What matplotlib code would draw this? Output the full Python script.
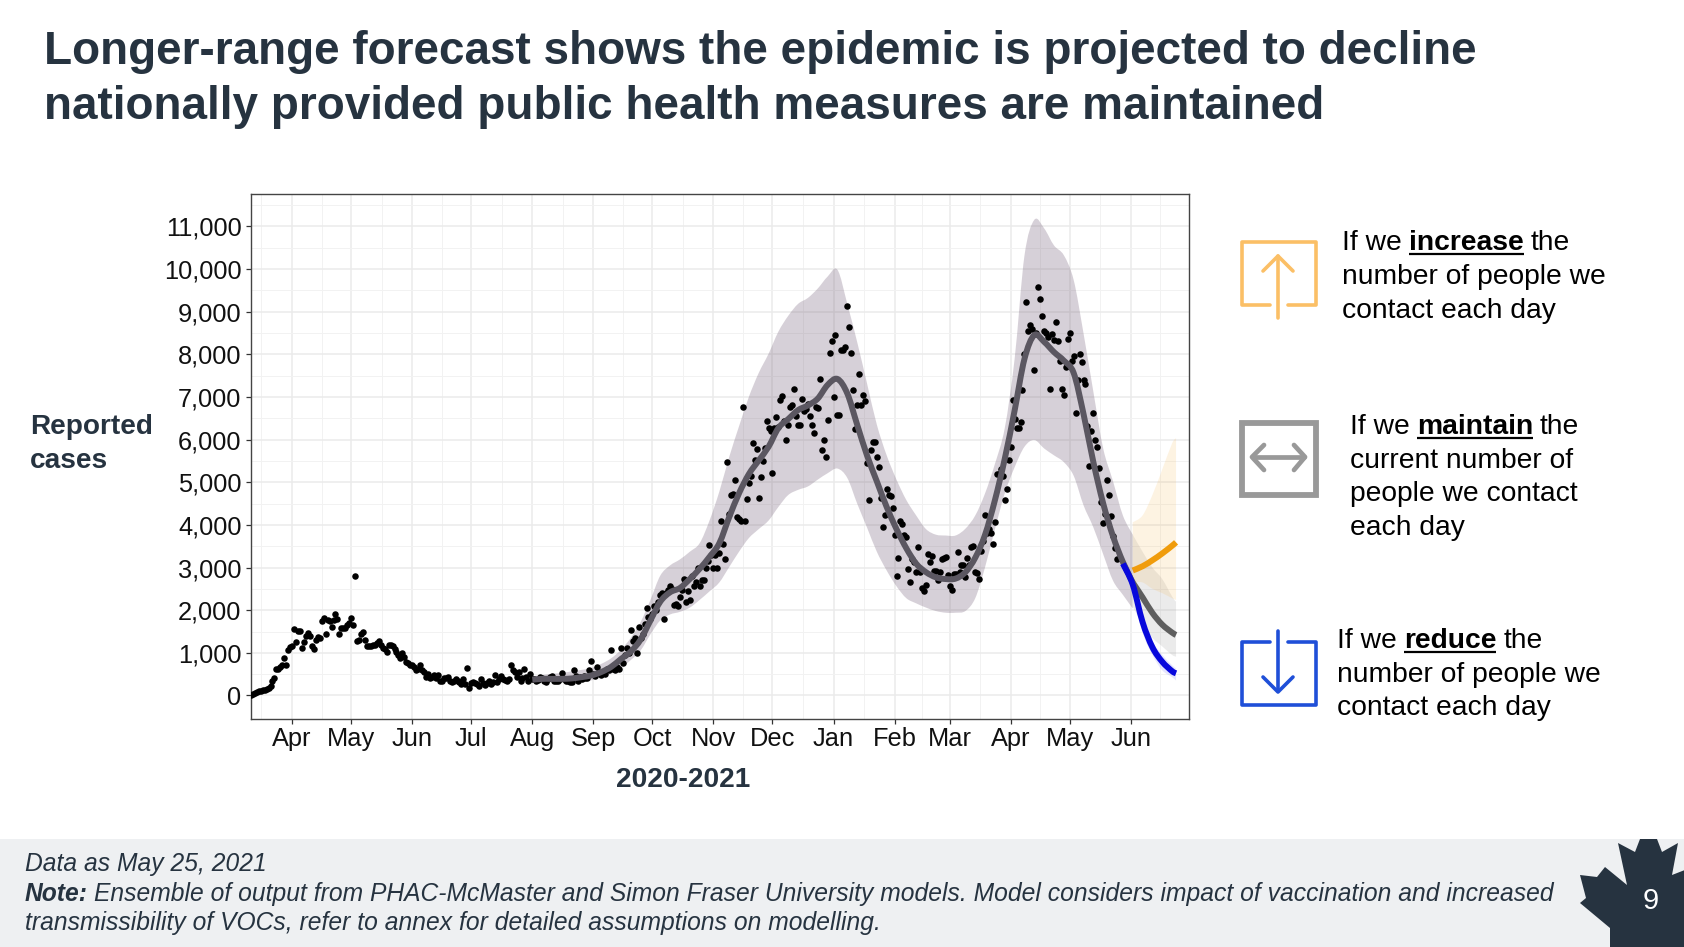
import matplotlib
matplotlib.use("Agg")
import matplotlib.pyplot as plt
import matplotlib.dates as mdates
from matplotlib.patches import Polygon, Rectangle, PathPatch
from matplotlib.path import Path
import numpy as np
import pandas as pd

plt.rcParams['font.family'] = ['Liberation Sans', 'DejaVu Sans']

# reported cases, one list per month
cases_2020_03 = [0,30,60,80,100,110,120,130,150,170,230,350,400,630,630,670,710,890,710,1070,1130]
cases_2020_04 = [1150,1550,1250,1520,1520,1110,1250,1400,1475,1400,1150,1090,1310,1370,1350,1740,1810,1450,1760,1740,1610,1760,1920,1800,1450,1580,1580,1580,1660,1690]
cases_2020_05 = [1810,1660,2790,1270,1310,1435,1500,1290,1150,1150,1150,1180,1180,1230,1270,1180,1110,1090,1030,1180,1180,1150,1090,1030,950,870,990,910,790,750,710]
cases_2020_06 = [710,670,590,630,725,590,550,430,510,400,430,480,400,480,350,350,400,400,430,350,310,350,390,350,320,270,390,270,650,185]
cases_2020_07 = [290,310,290,270,225,390,290,240,290,350,270,320,480,310,390,450,390,370,350,390,725,590,550,430,550,350,400,630,430,350,510]
cases_2020_08 = [390,390,350,370,430,400,350,310,390,430,450,350,350,350,390,530,390,350,350,310,320,590,450,350,430,390,450,410,400,600,815]
cases_2020_09 = [510,450,670,550,480,530,510,630,590,1070,630,590,670,630,1110,750,950,1110,990,1530,1270,1350,990,1600,1350,1435,1680,2060,1840,1800]
cases_2020_10 = [1900,2100,2000,2200,2360,2400,1800,2400,2480,2560,2500,2120,2150,2100,2300,2480,2740,2200,2460,2230,2800,2560,2650,3000,2560,2700,2710,3000,3150,3520,3290]
cases_2020_11 = [3000,3290,3000,3330,4100,3560,3210,5480,4260,4700,4730,5040,4180,4130,4100,6760,4100,4600,4980,5150,5930,5510,5770,4640,5130,5500,5800,6430,6270,6190]
cases_2020_12 = [5210,6270,6540,6290,6920,7020,6430,5990,6350,6770,6800,7180,6560,6340,6350,6960,6680,6720,6840,6550,6350,6150,6760,6740,7420,5750,5980,5600,6460,8030,8310]
cases_2021_01 = [7000,8450,6580,6580,8090,8110,8170,9140,8640,8030,7160,6250,6820,7530,6800,7040,6900,5440,4590,5750,5950,5950,5600,5350,4640,3950,4240,4840,4700,4680,4400]
cases_2021_02 = [3760,2790,3230,4100,4020,3770,3710,2970,2650,3190,3130,2900,3490,2890,2520,2440,2580,3310,3130,3270,2930,2930,2710,2900,3210,3230,3250,2820]
cases_2021_03 = [2560,2480,2850,2850,3370,2890,3060,3050,2770,3230,3050,3490,3510,2890,2870,2740,3390,3610,4220,3800,3900,3800,3550,4060,5190,5200,5320,5150,4580,4850,5510]
cases_2021_04 = [5830,6920,6480,6270,6270,6420,7150,8010,9220,8550,8680,8600,7620,8490,9570,9290,8890,8550,8500,8400,7190,8480,8330,8750,8310,7850,7190,7040,7700,8350]
cases_2021_05 = [8490,7850,7950,6630,7400,8010,7810,7400,7300,6310,5390,6190,6630,5980,5830,5340,4540,4040,4260,5060,4700,4200,3750,3450,3200]

month_starts = ["2020-03-11","2020-04-01","2020-05-01","2020-06-01","2020-07-01","2020-08-01","2020-09-01",
                "2020-10-01","2020-11-01","2020-12-01","2021-01-01","2021-02-01","2021-03-01","2021-04-01","2021-05-01"]
month_cases = [cases_2020_03,cases_2020_04,cases_2020_05,cases_2020_06,cases_2020_07,cases_2020_08,cases_2020_09,
               cases_2020_10,cases_2020_11,cases_2020_12,cases_2021_01,cases_2021_02,cases_2021_03,cases_2021_04,cases_2021_05]

# model fit, one value every 5 days from Aug 1 2020
fit_line = [370,390,390,390,400,430,470,550,670,855,1030,1310,1760,2200,2420,2520,2730,2970,3250,3570,4180,4740,5190,5510,5830,
            6270,6480,6690,6800,6960,7280,7420,7080,6350,5630,5020,4420,3900,3450,3090,2890,2770,2730,2740,2890,3230,3770,4580,
            5550,6680,7890,8450,8290,8050,7850,7560,6600,5470,4500,3730,3130,2650]
fit_upper = [450,480,510,530,565,600,645,740,870,1070,1350,1720,2240,2810,3050,3190,3370,3570,4100,4780,5590,6310,7000,7560,8010,
             8530,8900,9180,9320,9540,9820,9980,9180,8290,7320,6350,5630,5060,4580,4220,3900,3770,3750,3750,3910,4220,4740,5430,
             6270,7890,10310,11150,10950,10550,10320,9740,8490,7120,5790,5020,4220,3770]
fit_lower = [320,320,320,320,340,340,355,430,510,645,830,1055,1435,1760,1900,1960,2060,2240,2440,2650,3010,3370,3690,3900,4100,
             4420,4700,4820,4900,5060,5210,5320,5100,4500,3940,3370,2930,2560,2280,2160,2060,1980,1940,1940,1980,2280,3010,3900,
             4740,5350,5830,5990,5790,5630,5470,5150,4460,3940,3310,2690,2360,2040]

# scenarios
scen_dates = ["2021-06-02","2021-06-07","2021-06-12","2021-06-17","2021-06-22","2021-06-24"]
maintain_line = [2650,2300,1935,1660,1475,1420]
maintain_upper = [3770,3370,3000,2730,2320,2200]
maintain_lower = [2080,1680,1350,1150,950,910]
increase_line = [2930,3030,3170,3330,3510,3590]
increase_upper = [4060,4220,4700,5300,5910,6030]
increase_lower = [2650,2650,2500,2400,2280,2240]
reduce_dates = ["2021-05-28","2021-06-02","2021-06-07","2021-06-12","2021-06-17","2021-06-22","2021-06-24"]
reduce_line = [3090,2600,1720,1130,790,570,520]
reduce_upper = [3130,2750,1840,1270,950,710,630]
reduce_lower = [3050,2450,1480,950,590,430,350]

y_ticks = [0,1000,2000,3000,4000,5000,6000,7000,8000,9000,10000,11000]
x_ticks = ["2020-04-01","2020-05-01","2020-06-01","2020-07-01","2020-08-01","2020-09-01","2020-10-01","2020-11-01",
           "2020-12-01","2021-01-01","2021-02-01","2021-03-01","2021-04-01","2021-05-01","2021-06-01"]
x_labels = ["Apr","May","Jun","Jul","Aug","Sep","Oct","Nov","Dec","Jan","Feb","Mar","Apr","May","Jun"]

NAVY = "#263340"
W, H = 1684, 947

fig = plt.figure(figsize=(16.84, 9.47), dpi=100, facecolor="white")

# whole page layer, in pixels
page = fig.add_axes([0, 0, 1, 1], zorder=0)
page.set_xlim(0, W)
page.set_ylim(H, 0)
page.axis("off")

page.add_patch(Rectangle((0, 839), W, H - 839, fc="#eef0f2", ec="none"))

page.text(44, 52, "Longer-range forecast shows the epidemic is projected to decline", fontsize=33, fontweight="bold", color=NAVY, va="center")
page.text(44, 107, "nationally provided public health measures are maintained", fontsize=33, fontweight="bold", color=NAVY, va="center")

page.text(30, 427, "Reported", fontsize=20.2, fontweight="bold", color=NAVY, va="center")
page.text(30, 461, "cases", fontsize=20.2, fontweight="bold", color=NAVY, va="center")
page.text(683, 780, "2020-2021", fontsize=20.2, fontweight="bold", color=NAVY, va="center", ha="center")

# footer
FOOT = 17.7
page.text(25, 864, "Data as May 25, 2021", fontsize=FOOT, style="italic", color=NAVY, va="center")
note = page.text(25, 894, "Note:", fontsize=FOOT, style="italic", fontweight="bold", color=NAVY, va="center")
fig.canvas.draw()
note_end = note.get_window_extent().x1
page.text(note_end + 6, 894, "Ensemble of output from PHAC-McMaster and Simon Fraser University models. Model considers impact of vaccination and increased",
          fontsize=FOOT, style="italic", color=NAVY, va="center")
page.text(25, 923, "transmissibility of VOCs, refer to annex for detailed assumptions on modelling.", fontsize=FOOT, style="italic", color=NAVY, va="center")

# maple leaf
leaf = [(1640,839),(1657,839),(1662,852),(1678,843),(1672,875),(1690,868),(1700,900),(1690,947),(1610,947),(1610,928),
        (1580,903),(1586,898),(1580,875),(1597,877),(1605,867),(1627,885),(1618,843),(1635,852)]
page.add_patch(Polygon(leaf, closed=True, fc=NAVY, ec="none"))
page.text(1651, 901, "9", fontsize=21, color="white", ha="center", va="center")

TXT = 20.3


def draw_rule_text(x, y, before, word, after):
    # one line with a bold underlined word
    t1 = page.text(x, y, before, fontsize=TXT, color="black", va="baseline")
    fig.canvas.draw()
    x1 = t1.get_window_extent().x1 + 7
    t2 = page.text(x1, y, word, fontsize=TXT, fontweight="bold", color="black", va="baseline")
    fig.canvas.draw()
    x2 = t2.get_window_extent().x1
    page.plot([x1, x2], [y + 4, y + 4], color="black", lw=1.6, solid_capstyle="butt")
    page.text(x2 + 7, y, after, fontsize=TXT, color="black", va="baseline")


# scenario text
draw_rule_text(1342, 250, "If we", "increase", "the")
page.text(1342, 284, "number of people we", fontsize=TXT, color="black", va="baseline")
page.text(1342, 318, "contact each day", fontsize=TXT, color="black", va="baseline")

draw_rule_text(1350, 434, "If we", "maintain", "the")
page.text(1350, 468, "current number of", fontsize=TXT, color="black", va="baseline")
page.text(1350, 501, "people we contact", fontsize=TXT, color="black", va="baseline")
page.text(1350, 535, "each day", fontsize=TXT, color="black", va="baseline")

draw_rule_text(1337, 648, "If we", "reduce", "the")
page.text(1337, 682, "number of people we", fontsize=TXT, color="black", va="baseline")
page.text(1337, 715, "contact each day", fontsize=TXT, color="black", va="baseline")

# icons
ORANGE_ICON = "#fbbf66"
page.plot([1270,1242,1242,1316,1316,1288], [305,305,242,242,305,305], color=ORANGE_ICON, lw=2.6, solid_joinstyle="round", solid_capstyle="round")
page.plot([1278,1278], [318,256], color=ORANGE_ICON, lw=2.6, solid_capstyle="round")
page.plot([1263,1278,1293], [271,256,271], color=ORANGE_ICON, lw=2.6, solid_capstyle="round")

GREY_ICON = "#999999"
page.add_patch(Rectangle((1242, 423), 74, 72, fc="none", ec=GREY_ICON, lw=4.2))
page.plot([1254,1304], [457,457], color=GREY_ICON, lw=3.4, solid_capstyle="round")
page.plot([1264,1252,1264], [445,457,470], color=GREY_ICON, lw=3.4, solid_capstyle="round")
page.plot([1294,1305,1294], [445,457,470], color=GREY_ICON, lw=3.4, solid_capstyle="round")

BLUE_ICON = "#1f4fd8"
page.plot([1270,1242,1242,1316,1316,1288], [642,642,705,705,642,642], color=BLUE_ICON, lw=2.6, solid_joinstyle="round", solid_capstyle="round")
page.plot([1278,1278], [631,691], color=BLUE_ICON, lw=2.6, solid_capstyle="round")
page.plot([1263,1278,1293], [677,692,677], color=BLUE_ICON, lw=2.6, solid_capstyle="round")

# the chart
ax = fig.add_axes([250.5/W, (H-719)/H, (1189-250.5)/W, (719-194.5)/H], zorder=1)


def curve_segments(dates, values):
    # bezier control points through the read values, first vertex not included
    x = mdates.date2num(dates)
    p = np.column_stack([x, values]).astype(float)
    q = np.vstack([p[0], p, p[-1]])
    verts = []
    for i in range(1, len(q) - 2):
        verts.append(q[i] + (q[i + 1] - q[i - 1]) / 6)
        verts.append(q[i + 1] - (q[i + 2] - q[i]) / 6)
        verts.append(q[i + 1])
    return p[0], verts


def draw_curve(dates, values, color, z):
    start, verts = curve_segments(dates, values)
    path = Path([start] + verts, [Path.MOVETO] + [Path.CURVE4] * len(verts))
    ax.add_patch(PathPatch(path, fc="none", ec=color, lw=4.3, capstyle="butt", joinstyle="round", zorder=z))


def draw_band(dates, lower, upper, color, alpha):
    start_u, verts_u = curve_segments(dates, upper)
    start_l, verts_l = curve_segments(dates[::-1], lower[::-1])
    verts = [start_u] + verts_u + [start_l] + verts_l + [start_u]
    codes = [Path.MOVETO] + [Path.CURVE4] * len(verts_u) + [Path.LINETO] + [Path.CURVE4] * len(verts_l) + [Path.CLOSEPOLY]
    ax.add_patch(PathPatch(Path(verts, codes), fc=color, ec="none", alpha=alpha, zorder=2))


case_dates = []
case_values = []
for start, vals in zip(month_starts, month_cases):
    case_dates += list(pd.date_range(start, periods=len(vals), freq="D"))
    case_values += vals

fit_dates = pd.date_range("2020-08-01", periods=len(fit_line), freq="5D")
scen_x = pd.to_datetime(scen_dates)
reduce_x = pd.to_datetime(reduce_dates)

ax.scatter(case_dates, case_values, s=22, color="black", linewidths=0, zorder=3)

draw_band(fit_dates, fit_lower, fit_upper, "#6b5470", 0.27)
draw_band(scen_x, maintain_lower, maintain_upper, "#777777", 0.14)
draw_band(scen_x, increase_lower, increase_upper, "#f5b041", 0.15)
draw_band(reduce_x, reduce_lower, reduce_upper, "#3a3af0", 0.13)

draw_curve(fit_dates, fit_line, "#5b5761", 4)
draw_curve(scen_x, maintain_line, "#5f5f5f", 5)
draw_curve(reduce_x, reduce_line, "#0808dc", 6)
draw_curve(scen_x, increase_line, "#f09c0c", 6)

ax.set_xlim(pd.Timestamp("2020-03-10 20:00"), pd.Timestamp("2021-06-30 14:00"))
ax.set_ylim(-551, 11744)

x_tick_dates = pd.to_datetime(x_ticks)
ax.set_xticks(x_tick_dates)
ax.set_xticklabels(x_labels)
ax.set_yticks(y_ticks)
ax.set_yticklabels([f"{v:,}" for v in y_ticks])

# minor grid halfway between the majors, like ggplot
minor_x = [mdates.date2num(pd.Timestamp("2020-03-16"))]
nums = mdates.date2num(x_tick_dates)
for a, b in zip(nums[:-1], nums[1:]):
    minor_x.append((a + b) / 2)
minor_x.append(mdates.date2num(pd.Timestamp("2021-06-16")))
ax.set_xticks(minor_x, minor=True)
ax.set_yticks([v + 500 for v in y_ticks], minor=True)

ax.grid(True, which="major", color="#ebebeb", lw=1.1, zorder=0)
ax.grid(True, which="minor", color="#f2f2f2", lw=0.7, zorder=0)
ax.set_axisbelow(True)

ax.tick_params(axis="both", which="major", labelsize=18.3, length=3.5, width=0.9, color="#333333", labelcolor="#111111", pad=3)
ax.tick_params(axis="x", which="major", pad=2.5)
ax.tick_params(which="minor", length=0)
for s in ax.spines.values():
    s.set_color("#444444")
    s.set_linewidth(1.0)

fig.savefig("out.png", dpi=100)
